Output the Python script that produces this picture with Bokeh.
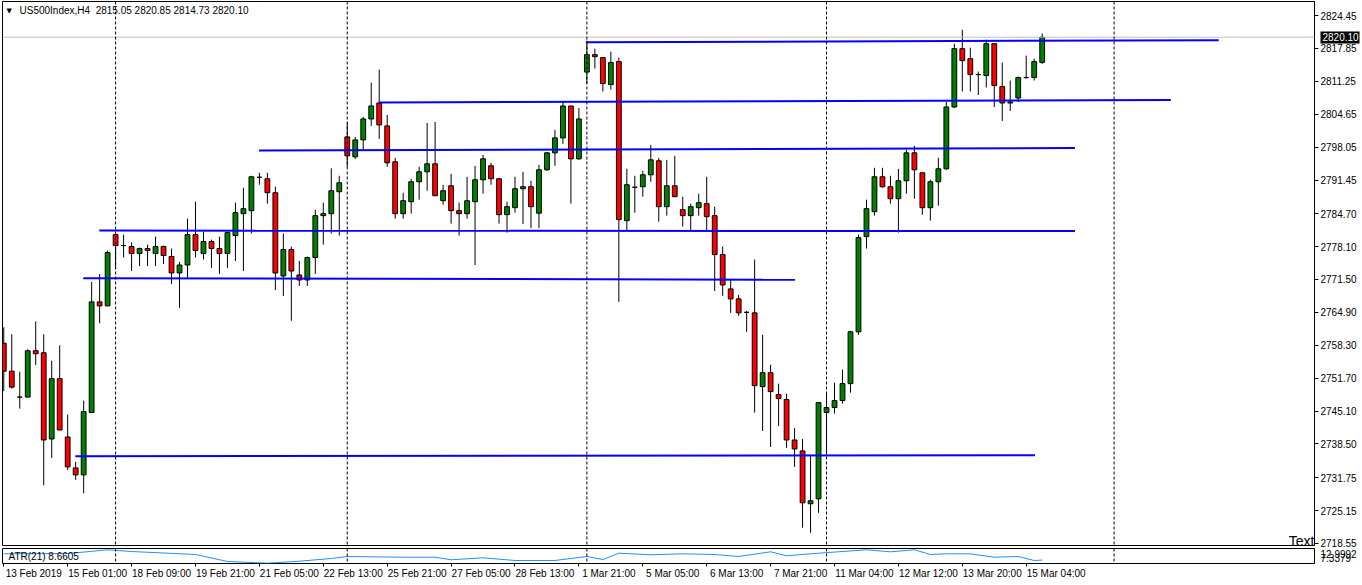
from bokeh.plotting import figure
from bokeh.models import Range1d, FixedTicker, Span, Label, NumeralTickFormatter, LinearAxis
from bokeh.layouts import column
from bokeh.embed import file_html
from bokeh.resources import INLINE

# ---------------- data ----------------
opens = [2758.7, 2753.1, 2747.9, 2747.9, 2757.2, 2756.8, 2739.5, 2751.6, 2739.9, 2733.7,
         2732.3, 2744.8, 2767.0, 2766.2, 2780.5, 2778.3, 2778.1, 2776.7, 2777.7, 2776.7,
         2778.1, 2776.1, 2772.8, 2774.4, 2780.5, 2776.7, 2779.1, 2777.7, 2776.7, 2780.3,
         2784.7, 2785.3, 2792.0, 2791.7, 2788.9, 2772.2, 2777.5, 2772.4, 2771.4, 2775.9,
         2784.3, 2784.7, 2789.1, 2800.1, 2796.1, 2799.5, 2803.7, 2806.9, 2802.3, 2795.1,
         2784.7, 2787.1, 2791.1, 2793.1, 2794.7, 2787.3, 2790.3, 2785.3, 2784.7, 2787.1,
         2791.5, 2794.3, 2791.7, 2784.5, 2785.9, 2789.7, 2790.1, 2784.8, 2793.5, 2796.9,
         2799.9, 2806.3, 2795.7, 2813.1, 2816.6, 2816.0, 2810.6, 2815.2, 2783.3, 2790.0,
         2790.1, 2792.5, 2795.3, 2786.1, 2790.3, 2785.5, 2784.3, 2785.9, 2786.7, 2784.3,
         2776.5, 2769.6, 2767.6, 2764.9, 2764.8, 2750.0, 2752.8, 2748.4, 2747.4, 2739.3,
         2737.1, 2726.5, 2727.5, 2744.8, 2745.8, 2747.2, 2750.6, 2761.0, 2780.1, 2785.1,
         2792.1, 2790.1, 2787.7, 2791.3, 2796.9, 2792.9, 2785.9, 2791.1, 2793.7, 2806.1,
         2817.8, 2815.8, 2812.6, 2812.4, 2818.8, 2810.2, 2806.9, 2807.9, 2812.0, 2812.0,
         2815.05]
highs = [2761.9, 2760.5, 2753.0, 2757.5, 2763.1, 2760.5, 2755.2, 2758.3, 2744.4, 2734.9,
         2747.2, 2771.0, 2772.6, 2777.3, 2780.5, 2780.5, 2778.9, 2777.9, 2778.5, 2780.1,
         2778.3, 2777.7, 2775.0, 2783.7, 2787.1, 2781.1, 2779.5, 2780.1, 2781.1, 2786.9,
         2789.9, 2792.3, 2792.9, 2792.9, 2790.1, 2780.7, 2778.1, 2775.2, 2776.1, 2785.5,
         2786.9, 2793.8, 2792.3, 2802.9, 2800.1, 2804.1, 2811.0, 2813.6, 2804.5, 2795.9,
         2788.9, 2791.7, 2794.1, 2802.9, 2803.1, 2790.5, 2792.7, 2786.9, 2792.1, 2794.3,
         2796.5, 2794.9, 2791.7, 2787.1, 2792.1, 2793.1, 2791.3, 2794.5, 2797.1, 2801.5,
         2807.3, 2806.3, 2805.9, 2819.4, 2817.8, 2816.0, 2817.2, 2816.0, 2793.7, 2792.3,
         2793.3, 2798.5, 2795.9, 2795.5, 2796.3, 2788.1, 2786.7, 2788.7, 2792.1, 2786.1,
         2778.1, 2771.4, 2768.4, 2765.2, 2775.5, 2760.4, 2754.4, 2750.6, 2748.6, 2741.7,
         2739.5, 2736.1, 2746.8, 2748.8, 2750.8, 2753.4, 2761.2, 2780.5, 2787.5, 2793.9,
         2793.9, 2792.3, 2793.7, 2797.5, 2798.3, 2792.9, 2791.5, 2795.9, 2807.1, 2818.8,
         2821.6, 2818.0, 2813.2, 2819.6, 2818.8, 2815.0, 2811.4, 2812.2, 2816.4, 2815.8,
         2820.85]
lows = [2749.1, 2749.6, 2745.6, 2747.9, 2754.3, 2730.2, 2735.7, 2741.3, 2733.3, 2731.3,
        2728.6, 2744.8, 2762.7, 2766.2, 2773.6, 2775.9, 2773.2, 2774.2, 2774.2, 2774.2,
        2774.6, 2770.6, 2765.8, 2771.8, 2775.9, 2775.5, 2773.8, 2772.6, 2773.8, 2775.2,
        2773.2, 2780.7, 2790.5, 2786.7, 2769.4, 2768.2, 2763.2, 2770.2, 2770.2, 2772.6,
        2778.5, 2780.7, 2780.3, 2794.1, 2795.7, 2797.5, 2802.3, 2799.7, 2794.1, 2783.7,
        2783.7, 2784.7, 2787.5, 2789.3, 2788.3, 2786.5, 2782.7, 2780.3, 2783.7, 2774.4,
        2788.7, 2790.5, 2782.7, 2780.9, 2784.9, 2782.6, 2781.8, 2781.8, 2793.3, 2794.3,
        2798.7, 2786.7, 2795.5, 2810.8, 2813.8, 2809.2, 2809.6, 2767.0, 2781.3, 2784.9,
        2788.1, 2791.1, 2783.1, 2784.3, 2788.1, 2782.1, 2781.3, 2784.3, 2781.3, 2769.2,
        2768.2, 2764.8, 2764.2, 2761.0, 2744.8, 2741.1, 2737.9, 2742.1, 2737.7, 2733.9,
        2721.7, 2720.7, 2724.7, 2736.5, 2744.6, 2746.6, 2748.8, 2760.4, 2777.7, 2784.3,
        2789.9, 2786.7, 2780.9, 2788.7, 2787.7, 2784.5, 2783.3, 2786.3, 2793.5, 2805.9,
        2809.2, 2809.2, 2808.5, 2810.0, 2806.1, 2803.3, 2805.3, 2807.1, 2811.8, 2811.4,
        2814.73]
closes = [2753.1, 2749.9, 2747.9, 2757.2, 2756.6, 2739.3, 2751.6, 2741.3, 2733.9, 2732.3,
          2745.0, 2767.0, 2766.2, 2776.9, 2778.3, 2778.3, 2776.7, 2777.7, 2777.3, 2778.1,
          2776.3, 2772.8, 2774.4, 2780.5, 2777.3, 2779.1, 2777.7, 2776.7, 2780.9, 2784.9,
          2785.7, 2792.1, 2792.0, 2788.9, 2772.8, 2777.5, 2773.2, 2771.4, 2775.9, 2784.3,
          2784.7, 2789.3, 2790.9, 2796.3, 2799.5, 2803.7, 2806.3, 2802.5, 2794.9, 2784.7,
          2787.3, 2791.1, 2793.1, 2794.7, 2788.3, 2789.3, 2785.3, 2784.7, 2787.3, 2791.5,
          2795.7, 2791.7, 2784.5, 2786.1, 2789.7, 2790.1, 2786.1, 2793.5, 2796.9, 2799.9,
          2806.3, 2795.7, 2803.7, 2816.6, 2816.2, 2810.8, 2815.0, 2783.5, 2790.5, 2790.0,
          2792.5, 2795.5, 2786.1, 2790.3, 2788.1, 2784.3, 2786.1, 2786.9, 2784.1, 2776.5,
          2770.4, 2767.6, 2764.8, 2764.9, 2750.2, 2752.8, 2749.0, 2747.6, 2739.3, 2737.5,
          2726.7, 2727.1, 2746.8, 2745.8, 2747.2, 2750.6, 2761.0, 2779.9, 2785.7, 2792.1,
          2790.1, 2787.7, 2791.3, 2796.9, 2793.5, 2785.9, 2791.1, 2793.7, 2806.1, 2817.8,
          2815.4, 2812.6, 2812.6, 2818.8, 2810.4, 2806.9, 2807.1, 2812.0, 2812.0, 2815.2,
          2820.10]

# ATR(21) sub-window readings: bar index, value
atr_idx = [0, 8, 13, 16, 24, 28, 33, 37, 41, 43, 50, 54, 56, 60, 64, 69, 73, 75, 77,
           81, 85, 89, 92, 96, 98, 102, 108, 111, 113, 114, 116, 118, 121, 124, 127, 129, 130]
atr_val = [11.31, 11.40, 13.00, 12.28, 11.01, 8.06, 7.34, 8.18, 9.32, 10.17, 9.87, 9.87,
           8.77, 9.62, 8.48, 8.48, 10.17, 8.90, 11.56, 10.89, 11.31, 11.01, 10.17, 12.15,
           10.46, 11.56, 13.00, 12.15, 12.70, 13.00, 11.01, 11.31, 11.31, 9.87, 10.17, 8.48,
           8.66]

# horizontal support / resistance trend lines (bar index, price)
tl_x0 = [72.96, 46.96, 31.96, 11.96, 9.96, 8.96]
tl_x1 = [152.1, 146.1, 134.1, 134.1, 99.05, 129.1]
tl_y0 = [2819.07, 2807.0, 2797.37, 2781.3, 2771.75, 2736.03]
tl_y1 = [2819.50, 2807.5, 2797.87, 2781.2, 2771.45, 2736.23]

# weekly period separators (bar index)
separators = [14, 43, 73, 103, 139]

price_ticks = [2824.45, 2817.85, 2811.25, 2804.65, 2798.05, 2791.45, 2784.70, 2778.10,
               2771.50, 2764.90, 2758.30, 2751.70, 2745.10, 2738.50, 2731.75, 2725.15, 2718.55]
atr_ticks = [7.3379, 12.9992]
time_tick_idx = [0, 8, 16, 24, 32, 40, 48, 56, 64, 72, 80, 88, 96, 104, 112, 120, 128]
time_labels = ["13 Feb 2019", "15 Feb 01:00", "18 Feb 09:00", "19 Feb 21:00", "21 Feb 05:00",
               "22 Feb 13:00", "25 Feb 21:00", "27 Feb 05:00", "28 Feb 13:00", "1 Mar 21:00",
               "5 Mar 05:00", "6 Mar 13:00", "7 Mar 21:00", "11 Mar 04:00", "12 Mar 12:00",
               "13 Mar 20:00", "15 Mar 04:00"]
last_price = 2820.10
header = "US500Index,H4\u00a0\u00a02815.05 2820.85 2814.73 2820.10"
atr_title = "ATR(21) 8.6605"

# ---------------- styling ----------------
FONT = "Liberation Sans"
FS = "10px"
FW = 1312
BULL = "#008000"
BEAR = "#FF0000"
LABEL_SHIFT = 3.75   # time labels start at their tick (MT4 style), in bars


def style_axis(axis, tick_out=0, tick_in=0, standoff=2, line_color="black"):
    axis.major_tick_out = tick_out
    axis.major_tick_in = tick_in
    axis.minor_tick_out = 0
    axis.minor_tick_in = 0
    axis.axis_line_color = line_color
    axis.major_label_standoff = standoff
    axis.major_label_text_font = FONT
    axis.major_label_text_font_size = FS
    axis.major_label_text_color = "black"


idx = list(range(len(opens)))
tops = [max(o, c) for o, c in zip(opens, closes)]
bots = [min(o, c) for o, c in zip(opens, closes)]
cols = [BULL if c > o else (BEAR if c < o else "black") for o, c in zip(opens, closes)]

xr = Range1d(-0.16, 164.09)

p = figure(frame_width=FW, frame_height=544, x_range=xr, y_range=Range1d(2718.13, 2827.26),
           output_backend="svg", toolbar_location=None, x_axis_location=None,
           y_axis_location="right", min_border_left=2, min_border_top=1,
           min_border_bottom=3, min_border_right=0)
p.grid.visible = False
p.outline_line_color = "black"
p.outline_line_width = 1
ya = p.yaxis[0]
ya.ticker = FixedTicker(ticks=price_ticks)
ya.formatter = NumeralTickFormatter(format="0.00")
style_axis(ya, tick_out=4, standoff=2)

# current bid marker on the price scale: a thick inward tick as black box, white text
bid_axis = LinearAxis(ticker=FixedTicker(ticks=[last_price]),
                      formatter=NumeralTickFormatter(format="0.00"))
style_axis(bid_axis, tick_out=0, tick_in=39, standoff=-37, line_color=None)
bid_axis.major_tick_line_color = "black"
bid_axis.major_tick_line_width = 12
bid_axis.major_label_text_color = "white"
p.add_layout(bid_axis, "right")

p.add_layout(Span(location=last_price, dimension="width", line_color="#C0C0C0", line_width=1))
for s in separators:
    p.add_layout(Span(location=s, dimension="height", line_color="black", line_width=1,
                      line_dash="3 2"))

p.segment(x0=idx, y0=lows, x1=idx, y1=highs, line_color="black", line_width=1)
p.vbar(x=idx, width=0.6, top=tops, bottom=bots, fill_color=cols, line_color="black",
       line_width=1)
p.segment(x0=tl_x0, y0=tl_y0, x1=tl_x1, y1=tl_y1, line_color="#0000FF", line_width=2)

p.add_layout(Label(x=4, y=535, x_units="screen", y_units="screen", text="\u25BC",
                   text_font="DejaVu Sans", text_font_size="7px", text_baseline="middle",
                   text_color="black"))
p.add_layout(Label(x=17, y=535, x_units="screen", y_units="screen", text=header,
                   text_font=FONT, text_font_size=FS, text_baseline="middle",
                   text_color="black"))
p.add_layout(Label(x=FW, y=5, x_units="screen", y_units="screen", text="Text",
                   text_font=FONT, text_font_size="14px", text_align="right",
                   text_baseline="alphabetic", text_color="black"))

a = figure(frame_width=FW, frame_height=15, x_range=xr, y_range=Range1d(7.21, 13.55),
           output_backend="svg", toolbar_location=None, y_axis_location="right",
           min_border_left=2, min_border_top=0, min_border_bottom=0, min_border_right=0)
a.grid.visible = False
a.outline_line_color = "black"
# the scale labels of the tiny sub-window sit squeezed together, as MT4 draws them
a.extra_y_ranges = {"scale": Range1d(1.676, 18.66)}
ay = a.yaxis[0]
ay.y_range_name = "scale"
ay.ticker = FixedTicker(ticks=atr_ticks)
ay.formatter = NumeralTickFormatter(format="0.0000")
style_axis(ay, tick_out=0, standoff=6)

# tick marks only
ax = a.xaxis[0]
ax.ticker = FixedTicker(ticks=time_tick_idx)
style_axis(ax, tick_out=3, standoff=0, line_color=None)
ax.major_label_text_font_size = "1px"
ax.major_label_text_alpha = 0
# labels only, starting at their ticks
label_pos = [t + LABEL_SHIFT for t in time_tick_idx]
ax2 = LinearAxis(ticker=FixedTicker(ticks=label_pos))
ax2.major_label_overrides = {pos: lab for pos, lab in zip(label_pos, time_labels)}
style_axis(ax2, tick_out=0, standoff=1, line_color=None)
a.add_layout(ax2, "below")

for s in separators:
    a.add_layout(Span(location=s, dimension="height", line_color="black", line_width=1,
                      line_dash="3 2"))
a.line(atr_idx, atr_val, line_color="#1E90FF", line_width=1)
a.add_layout(Label(x=6, y=7, x_units="screen", y_units="screen", text=atr_title,
                   text_font=FONT, text_font_size=FS, text_baseline="middle",
                   text_color="black"))

layout = column(p, a, spacing=0)
open("out.html", "w").write(file_html(layout, INLINE))
